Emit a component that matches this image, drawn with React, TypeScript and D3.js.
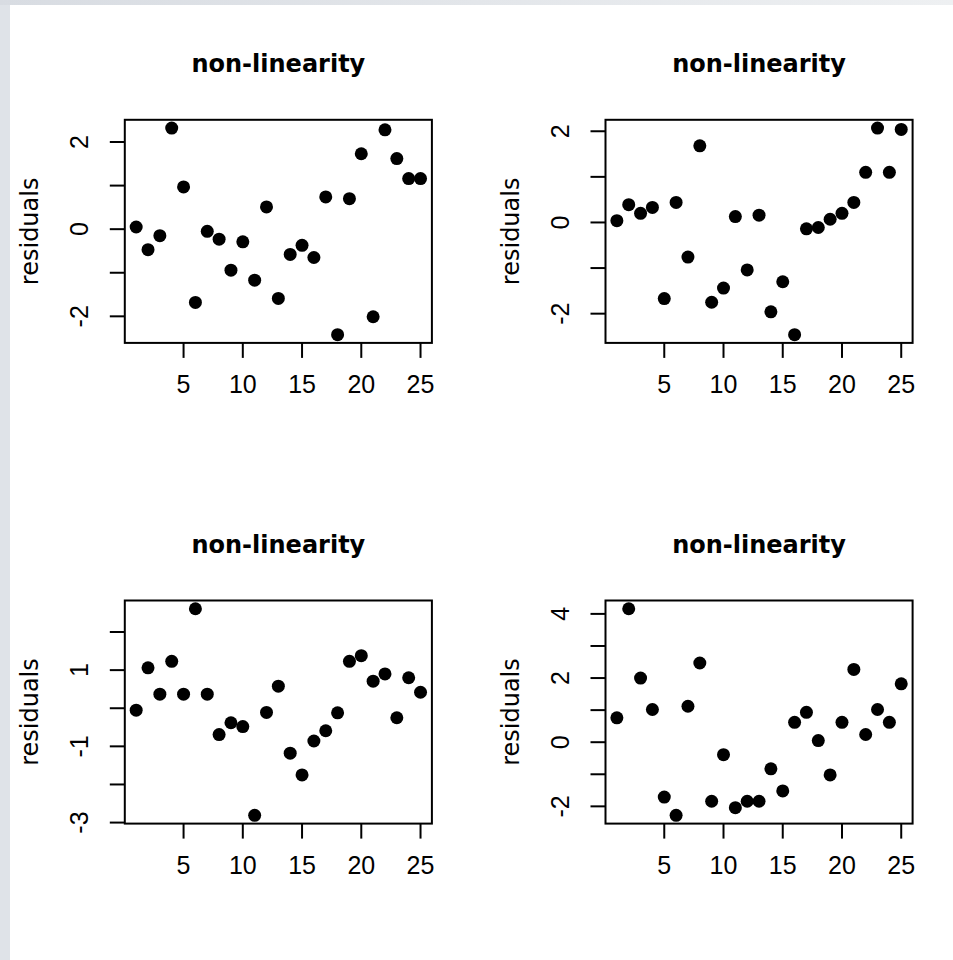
import React from "react";
import * as d3 from "d3";

// residuals, index 1..25
const index = d3.range(1, 26);

const residualsA = [
  0.05, -0.47, -0.15, 2.32, 0.97, -1.68, -0.05, -0.23, -0.94, -0.29, -1.17, 0.51, -1.59,
  -0.58, -0.37, -0.65, 0.74, -2.42, 0.7, 1.73, -2.01, 2.28, 1.62, 1.16, 1.16
];
const residualsB = [
  0.04, 0.39, 0.2, 0.33, -1.67, 0.44, -0.76, 1.68, -1.75, -1.44, 0.13, -1.04, 0.16,
  -1.96, -1.3, -2.46, -0.14, -0.11, 0.07, 0.2, 0.44, 1.1, 2.07, 1.1, 2.04
];
const residualsC = [
  -0.05, 1.06, 0.37, 1.23, 0.37, 2.61, 0.37, -0.69, -0.38, -0.48, -2.81, -0.11, 0.58,
  -1.18, -1.75, -0.86, -0.59, -0.12, 1.23, 1.38, 0.71, 0.9, -0.25, 0.8, 0.42
];
const residualsD = [
  0.76, 4.16, 2.0, 1.02, -1.71, -2.28, 1.12, 2.47, -1.84, -0.39, -2.04, -1.84, -1.84,
  -0.83, -1.52, 0.62, 0.93, 0.05, -1.02, 0.62, 2.27, 0.24, 1.02, 0.62, 1.82
];

const xTicks = [5, 10, 15, 20, 25];
// R drops the labels that would overlap
const yLabelsA = [-2, 0, 2];
const yLabelsB = [-2, 0, 2];
const yLabelsC = [-3, -1, 1];
const yLabelsD = [-2, 0, 2, 4];

const title = "non-linearity";
const yTitle = "residuals";

const panels = [
  { values: residualsA, labels: yLabelsA, col: 0, row: 0 },
  { values: residualsB, labels: yLabelsB, col: 1, row: 0 },
  { values: residualsC, labels: yLabelsC, col: 0, row: 1 },
  { values: residualsD, labels: yLabelsD, col: 1, row: 1 }
];

// device is 961px square at (10,5); one margin line is 28px
const origin = { x: 10, y: 5 };
const cell = 480.7;
const line = 28;
const margin = { left: 4.1 * line, top: 4.1 * line, right: 2.1 * line, bottom: 5.1 * line };

// R style 4% padding of the data range
const padded = (lo: number, hi: number) => {
  const d = (hi - lo) * 0.04;
  return [lo - d, hi + d];
};

const Panel = ({ values, labels, col, row }) => {
  const left = origin.x + col * cell + margin.left;
  const top = origin.y + row * cell + margin.top;
  const right = origin.x + (col + 1) * cell - margin.right;
  const bottom = origin.y + (row + 1) * cell - margin.bottom;

  const x = d3.scaleLinear().domain(padded(1, 25)).range([left, right]);
  const [lo, hi] = d3.extent(values) as [number, number];
  const y = d3.scaleLinear().domain(padded(lo, hi)).range([bottom, top]);
  const yTicks = y.ticks(5);

  return (
    <g>
      <text
        x={(left + right) / 2}
        y={top - 48}
        textAnchor="middle"
        fontFamily="DejaVu Sans"
        fontWeight="bold"
        fontSize={24}
      >
        {title}
      </text>
      <rect
        x={left}
        y={top}
        width={right - left}
        height={bottom - top}
        fill="none"
        stroke="#000"
        strokeWidth={2}
      />
      {xTicks.map(t => (
        <g key={t}>
          <line x1={x(t)} x2={x(t)} y1={bottom} y2={bottom + 15} stroke="#000" strokeWidth={2} />
          <text
            x={x(t)}
            y={bottom + 50}
            textAnchor="middle"
            fontFamily="Liberation Sans"
            fontSize={25}
          >
            {t}
          </text>
        </g>
      ))}
      {yTicks.map(t => (
        <g key={t}>
          <line x1={left - 15} x2={left} y1={y(t)} y2={y(t)} stroke="#000" strokeWidth={2} />
          {labels.includes(t) ? (
            <text
              transform={`translate(${left - 37},${y(t)}) rotate(-90)`}
              textAnchor="middle"
              fontFamily="Liberation Sans"
              fontSize={25}
            >
              {t}
            </text>
          ) : null}
        </g>
      ))}
      <text
        transform={`translate(${left - 87},${(top + bottom) / 2}) rotate(-90)`}
        textAnchor="middle"
        fontFamily="DejaVu Sans"
        fontSize={24}
      >
        {yTitle}
      </text>
      {values.map((v, i) => (
        <circle key={i} cx={x(index[i])} cy={y(v)} r={6.5} fill="#000" />
      ))}
    </g>
  );
};

export default function App() {
  return (
    <div style={{ position: "absolute", left: 0, top: 0, width: 953, height: 960 }}>
      <svg width={953} height={960} style={{ display: "block" }}>
        <defs>
          <linearGradient id="frameTop" x1="0" x2="1" y1="0" y2="0">
            <stop offset="0" stopColor="#d8dce2" />
            <stop offset="1" stopColor="#eef0f2" />
          </linearGradient>
        </defs>
        <rect width={953} height={960} fill="#dfe3e8" />
        <rect width={953} height={origin.y} fill="url(#frameTop)" />
        <rect x={origin.x} y={origin.y} width={953 - origin.x} height={960 - origin.y} fill="#fff" />
        {panels.map((p, i) => (
          <Panel key={i} {...p} />
        ))}
      </svg>
    </div>
  );
}
